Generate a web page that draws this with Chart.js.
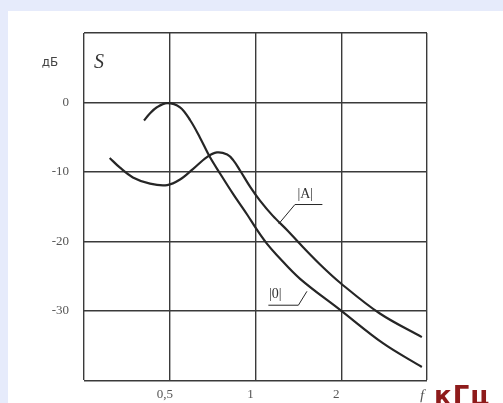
<!DOCTYPE html>
<html lang="ru">
<head>
  <meta charset="UTF-8">
  <title>S, дБ</title>
  <script src="https://cdn.jsdelivr.net/npm/chart.js"></script>
  <style>
    * { margin: 0; padding: 0; box-sizing: border-box; }
    html, body { width: 503px; height: 403px; overflow: hidden; }
    body { background: #e6ebfb; position: relative; font-family: 'Liberation Serif', serif; }
    .panel { position: absolute; left: 8px; top: 11px; right: 0; bottom: 0; background: #fff; }
    #chart { position: absolute; left: 0; top: 0; }
    .unit {
      position: absolute; left: 434px; top: 381px;
      font-family: 'DejaVu Sans', sans-serif; font-weight: bold;
      font-size: 26px; color: #8e1b1b; letter-spacing: 1px;
    }
  </style>
</head>
<body>
<div class="panel"></div>
<canvas id="chart" width="503" height="403"></canvas>
<div class="unit">кГц</div>

<script>
// x axis is drawn in equal steps: 0 | 0,5 | 1 | 2 | f
const xTickLabels = ['', '0,5', '1', '2', 'f'];
const yTickLabels = { '0': '0', '-10': '-10', '-20': '-20', '-30': '-30' };

// |0| curve
const curve0X = [0.70, 0.76, 0.85, 0.97, 1.12, 1.24, 1.35, 1.47, 1.59, 1.74, 1.90, 2.02, 2.13, 2.25, 2.52, 2.99, 3.49, 3.94];
const curve0Y = [-2.6, -1.7, -0.7, -0.1, -0.7, -2.6, -5.0, -7.9, -10.3, -13.2, -16.1, -18.4, -20.3, -22.0, -25.4, -29.9, -34.7, -38.1];

// |A| curve
const curveAX = [0.30, 0.42, 0.57, 0.77, 0.97, 1.12, 1.27, 1.43, 1.55, 1.67, 1.74, 1.82, 1.94, 2.05, 2.20, 2.37, 2.52, 2.75, 2.99, 3.45, 3.94];
const curveAY = [-8.0, -9.4, -10.8, -11.7, -11.9, -11.1, -9.6, -7.9, -7.2, -7.5, -8.3, -9.8, -12.2, -14.1, -16.3, -18.4, -20.4, -23.3, -26.0, -30.4, -33.8];

// label leaders
const leaderAX = [2.78, 2.46, 2.27];
const leaderAY = [-14.7, -14.7, -17.5];
const leader0X = [2.15, 2.50, 2.60];
const leader0Y = [-29.2, -29.2, -27.2];

const curveLabels = [
  { text: '|A|', x: 2.58, y: -13.2 },
  { text: '|0|', x: 2.23, y: -27.7 }
];

const pts = (xs, ys) => xs.map((x, i) => ({ x, y: ys[i] }));

const ink = '#262626';

const textPlugin = {
  id: 'texts',
  afterDatasetsDraw(chart) {
    const { ctx, chartArea, scales } = chart;
    ctx.save();
    ctx.fillStyle = '#444';
    ctx.textAlign = 'center';
    ctx.textBaseline = 'middle';
    ctx.font = '12px "DejaVu Sans", sans-serif';
    ctx.fillText('дБ', chartArea.left - 34, chartArea.top + 30);
    ctx.fillStyle = '#333';
    ctx.font = 'italic 20px "Liberation Serif", serif';
    ctx.fillText('S', chartArea.left + 15, chartArea.top + 30);
    ctx.font = '14px "Liberation Serif", serif';
    curveLabels.forEach(l => {
      ctx.fillText(l.text, scales.x.getPixelForValue(l.x), scales.y.getPixelForValue(l.y));
    });
    ctx.restore();
  }
};

const lineSet = (data, width, tension) => ({
  data,
  showLine: true,
  borderColor: ink,
  borderWidth: width,
  pointRadius: 0,
  tension,
  fill: false
});

new Chart(document.getElementById('chart'), {
  type: 'scatter',
  data: {
    datasets: [
      lineSet(pts(curve0X, curve0Y), 2.2, 0.35),
      lineSet(pts(curveAX, curveAY), 2.2, 0.35),
      lineSet(pts(leaderAX, leaderAY), 1, 0),
      lineSet(pts(leader0X, leader0Y), 1, 0)
    ]
  },
  options: {
    responsive: false,
    animation: false,
    layout: { padding: { left: 0, top: 33, right: 76, bottom: 0 } },
    plugins: { legend: { display: false }, tooltip: { enabled: false } },
    scales: {
      x: {
        type: 'linear',
        min: 0, max: 4,
        afterFit: s => { s.height = 22; },
        border: { display: false },
        grid: { color: '#3a3a3a', lineWidth: 1.4, drawTicks: false },
        ticks: {
          stepSize: 1,
          padding: 7,
          labelOffset: -5,
          color: '#555',
          font: c => (c.tick && c.tick.value === 4)
            ? { family: 'Liberation Serif', size: 15, style: 'italic' }
            : { family: 'Liberation Serif', size: 13 },
          callback: v => xTickLabels[v] ?? ''
        }
      },
      y: {
        min: -40, max: 10,
        afterFit: s => { s.width = 84; },
        border: { display: false },
        grid: { color: '#3a3a3a', lineWidth: 1.4, drawTicks: false },
        ticks: {
          stepSize: 10,
          padding: 15,
          color: '#555',
          font: { family: 'Liberation Serif', size: 13 },
          callback: v => yTickLabels[String(v)] ?? ''
        }
      }
    }
  },
  plugins: [textPlugin]
});
</script>
</body>
</html>
